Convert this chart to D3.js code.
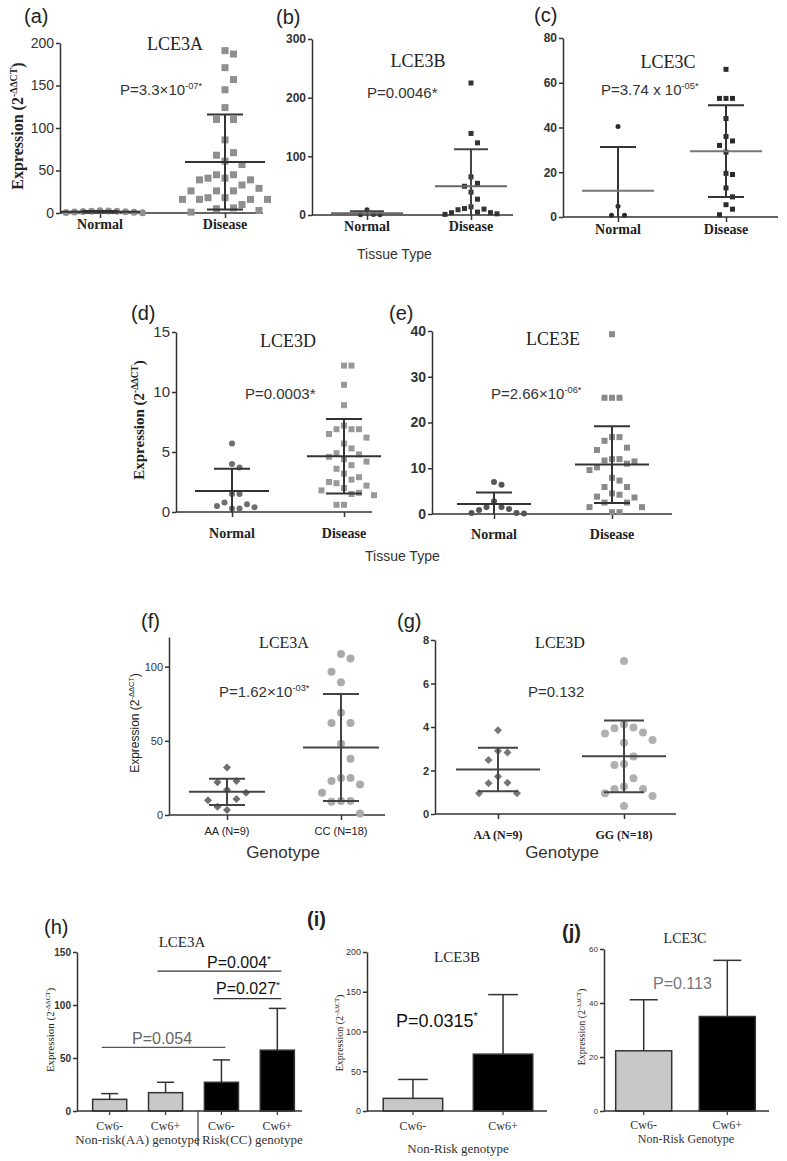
<!DOCTYPE html>
<html>
<head>
<meta charset="utf-8">
<script src="https://cdn.jsdelivr.net/npm/d3@7"></script>
<style>
body { margin: 0; background: #fff; }
</style>
</head>
<body>
<div id="chart"></div>
<script>
'use strict';

// ---- data ----
const tissueCats = ['Normal', 'Disease'];

// (a) LCE3A
const aTicks = [0, 50, 100, 150, 200];
const aNormal = [2.5, 2.0, 1.5, 1.8, 1.2, 0.5, 0.3, 1.0, 2.2, 2.6];
const aDisease = [191, 187, 171, 157, 145, 124, 110, 110, 86, 71, 68, 61, 57, 45, 45, 41, 41, 39, 39, 33, 29,
	26, 26, 26, 18, 18, 16, 16, 16, 16, 10, 6, 5, 3, 1];
const aMean = [1.5, 60];
const aSD = [0.8, 56];

// (b) LCE3B
const bTicks = [0, 100, 200, 300];
const bNormal = [9, 1, 0.5, 0.5];
const bDisease = [225, 139, 123, 65, 54, 49, 39, 27, 14, 11, 10, 9, 5, 4, 4, 2, 1];
const bMean = [3, 49];
const bSD = [3.5, 63];

// (c) LCE3C
const cTicks = [0, 20, 40, 60, 80];
const cNormal = [40.5, 4.8, 0.8, 0.8];
const cDisease = [66, 53, 53, 53, 44, 36, 34, 32, 29, 19.5, 19, 13, 9, 5.5, 3.5, 1];
const cMean = [11.7, 29.4];
const cSD = [19.6, 20.5];

// (d) LCE3D
const dTicks = [0, 5, 10, 15];
const dNormal = [5.7, 4.0, 3.7, 1.5, 1.5, 0.8, 0.65, 0.5, 0.4, 0.3, 0.3];
const dDisease = [12.2, 12.2, 10.6, 8.9, 7.2, 6.9, 6.9, 6.9, 6.5, 6.2, 5.7, 5.3, 4.9, 4.8, 4.6, 4.4, 4.2, 3.9,
	3.6, 3.2, 2.9, 2.7, 2.5, 2.4, 2.2, 2.0, 1.8, 1.6, 1.5, 1.4, 0.6, 0.6];
const dMean = [1.75, 4.65];
const dSD = [1.85, 3.1];

// (e) LCE3E
const eTicks = [0, 10, 20, 30, 40];
const eNormal = [7.0, 6.4, 2.8, 1.5, 1.5, 1.1, 0.9, 0.2, 0.1, 0.2];
const eDisease = [39.3, 25.4, 25.4, 25.4, 16.8, 16.8, 16.0, 14.5, 14.0, 12.0, 12.0, 11.7, 11.5, 11.0, 10.2,
	9.6, 7.9, 7.3, 5.9, 5.9, 4.5, 4.2, 3.8, 3.6, 2.5, 2.5, 1.5, 1.5, 0.4, 0.4];
const eMean = [2.2, 10.8];
const eSD = [2.5, 8.4];

// (f) LCE3A by genotype
const fCats = ['AA (N=9)', 'CC (N=18)'];
const fTicks = [0, 50, 100];
const fAA = [32, 23, 22, 17, 15, 10.8, 10, 5.6, 3.4];
const fCC = [108.5, 105.5, 96.5, 89.5, 69, 62, 62, 48, 38, 25, 25, 23, 20.5, 15, 9.5, 9, 9.5, 1];
const fMean = [15.6, 45.5];
const fSD = [8.9, 36];

// (g) LCE3D by genotype
const gCats = ['AA (N=9)', 'GG (N=18)'];
const gTicks = [0, 2, 4, 6, 8];
const gAA = [3.85, 2.9, 2.83, 2.48, 1.72, 1.41, 1.44, 0.95, 0.95];
const gGG = [7.03, 4.12, 3.98, 3.94, 3.75, 3.7, 3.4, 3.28, 2.64, 2.3, 2.25, 1.64, 1.26, 1.15, 1.15, 0.95, 0.83, 0.37];
const gMean = [2.05, 2.65];
const gSD = [1.0, 1.65];

// (h) LCE3A bars
const hCats = ['Cw6-', 'Cw6+', 'Cw6-', 'Cw6+'];
const hGroups = ['Non-risk(AA) genotype', 'Risk(CC) genotype'];
const hTicks = [0, 50, 100, 150];
const hMean = [11, 17.3, 27.1, 57.4];
const hSD = [5.4, 9.8, 21.1, 39.4];

// (i) LCE3B bars
const iCats = ['Cw6-', 'Cw6+'];
const iTicks = [0, 50, 100, 150, 200];
const iMean = [15.9, 71.5];
const iSD = [23.8, 74.9];

// (j) LCE3C bars
const jCats = ['Cw6-', 'Cw6+'];
const jTicks = [0, 20, 40, 60];
const jMean = [22.3, 35];
const jSD = [18.9, 20.8];

const SANS = "'Liberation Sans', Arial, sans-serif";
const SERIF = "'Liberation Serif', 'Times New Roman', serif";

var svg = d3.select('#chart').append('svg')
	.attr('width', 787)
	.attr('height', 1161)
	.attr('font-family', SANS);

// plain text helper
function label(x, y, str, o) {
	o = o || {};
	return svg.append('text')
		.attr('x', x)
		.attr('y', y)
		.attr('text-anchor', o.anchor || 'middle')
		.attr('font-family', o.family || SANS)
		.attr('font-size', o.size || 14)
		.attr('font-weight', o.weight || 'normal')
		.attr('fill', o.color || '#222')
		.text(str);
}

// text with a superscript part, e.g. P=3.3x10^-07*
function supText(x, y, base, sup, o) {
	var t = label(x, y, '', o).attr('text-anchor', o.anchor || 'start');
	t.append('tspan').text(base);
	t.append('tspan').attr('dy', -o.size * 0.38).attr('font-size', o.size * 0.62).text(sup);
	return t;
}

// rotated y label
function yLabel(x, y, o) {
	var t = svg.append('text')
		.attr('transform', 'translate(' + x + ',' + y + ') rotate(-90)')
		.attr('text-anchor', 'middle')
		.attr('font-family', o.family)
		.attr('font-size', o.size)
		.attr('font-weight', o.weight || 'normal')
		.attr('fill', '#222');
	t.append('tspan').text('Expression (2');
	t.append('tspan').attr('dy', -o.size * 0.4).attr('font-size', o.size * 0.62).text('-\u0394\u0394CT');
	t.append('tspan').attr('dy', o.size * 0.4).text(')');
}

// simple beeswarm so points in a column don't overlap
function swarm(vals, y, cx, step, vgap) {
	var placed = [];
	vals.map(function(v) { return { v: v, py: y(v) }; })
		.sort(function(a, b) { return a.py - b.py; })
		.forEach(function(p) {
			for (var k = 0; k < 60; k++) {
				var px = cx + (k % 2 ? 1 : -1) * Math.ceil(k / 2) * step;
				var hit = placed.some(function(q) {
					return Math.abs(q.px - px) < step * 0.99 && Math.abs(q.py - p.py) < vgap;
				});
				if (!hit) { p.px = px; break; }
			}
			placed.push(p);
		});
	return placed;
}

function styleYAxis(ga, o) {
	ga.attr('font-family', o.tickFamily || SANS);
	ga.select('.domain').attr('stroke', '#333').attr('stroke-width', 1.5);
	ga.selectAll('.tick line').attr('stroke', '#333').attr('stroke-width', 1.5);
	ga.selectAll('.tick text')
		.attr('font-size', o.tickFont)
		.attr('font-weight', o.tickBold ? 'bold' : 'normal')
		.attr('fill', '#333');
}

// scatter panel with mean and SD lines
function dotPanel(p) {
	var g = svg.append('g');
	var y = d3.scaleLinear().domain(p.domain).range([p.y0, p.y1]);
	var x = d3.scalePoint().domain(p.cats).range(p.catX);

	var ga = g.append('g')
		.attr('transform', 'translate(' + p.ax0 + ',0)')
		.call(d3.axisLeft(y).tickValues(p.ticks).tickSize(4).tickSizeOuter(0).tickPadding(2));
	styleYAxis(ga, p);

	g.append('line')
		.attr('x1', p.ax0).attr('x2', p.ax1)
		.attr('y1', y(0)).attr('y2', y(0))
		.attr('stroke', '#333').attr('stroke-width', 1.5);

	var gx = g.append('g')
		.attr('transform', 'translate(0,' + y(0) + ')')
		.call(d3.axisBottom(x).tickSize(5).tickSizeOuter(0).tickFormat(''));
	gx.select('.domain').remove();
	gx.selectAll('.tick line').attr('stroke', '#333').attr('stroke-width', 1.5);

	p.cats.forEach(function(c) {
		label(x(c), y(0) + p.labDy, c, { family: p.labFamily, size: p.labFont, weight: p.labWeight, color: '#222' });
	});

	p.groups.forEach(function(vals, i) {
		var cx = x(p.cats[i]);
		var s = p.size;
		var pts = swarm(vals, y, cx, s + 1.5, (s + 1) * 2);
		var shape = p.shapes[i];
		var sym = d3.symbol()
			.type(shape === 'circle' ? d3.symbolCircle : d3.symbolSquare)
			.size(shape === 'circle' ? Math.PI * s * s / 4 : (shape === 'diamond' ? s * s / 2 : s * s));
		g.append('g').selectAll('path')
			.data(pts)
			.enter().append('path')
			.attr('d', sym)
			.attr('transform', function(d) {
				return 'translate(' + d.px + ',' + d.py + ')' + (shape === 'diamond' ? ' rotate(45)' : '');
			})
			.attr('fill', p.colors[i]);

		// mean +/- SD
		var m = p.means[i], sd = p.sds[i];
		var lo = Math.max(0, m - sd), hi = m + sd;
		var eb = g.append('g').attr('stroke', p.barColor).attr('stroke-width', 2);
		eb.append('line').attr('x1', cx).attr('x2', cx).attr('y1', y(lo)).attr('y2', y(hi));
		eb.append('line').attr('x1', cx - p.capW).attr('x2', cx + p.capW).attr('y1', y(hi)).attr('y2', y(hi));
		if (m - sd > 0) {
			eb.append('line').attr('x1', cx - p.capW).attr('x2', cx + p.capW).attr('y1', y(lo)).attr('y2', y(lo));
		}
		eb.append('line').attr('x1', cx - p.meanW).attr('x2', cx + p.meanW).attr('y1', y(m)).attr('y2', y(m))
			.attr('stroke', p.meanColor || p.barColor);
	});
}

// bar panel with upper SD whisker
function barPanel(p) {
	var g = svg.append('g');
	var y = d3.scaleLinear().domain(p.domain).range([p.y0, p.y1]);
	var x = d3.scaleBand().domain(d3.range(p.cats.length)).range(p.band)
		.paddingInner(p.pi).paddingOuter(p.po);
	var bw = x.bandwidth();

	var ga = g.append('g')
		.attr('transform', 'translate(' + p.ax0 + ',0)')
		.call(d3.axisLeft(y).tickValues(p.ticks).tickSize(4).tickSizeOuter(0).tickPadding(2));
	styleYAxis(ga, p);

	// whiskers
	p.means.forEach(function(m, i) {
		var cx = x(i) + bw / 2;
		var hi = y(m + p.sds[i]);
		g.append('line').attr('x1', cx).attr('x2', cx).attr('y1', y(m)).attr('y2', hi)
			.attr('stroke', '#333').attr('stroke-width', 1.5);
		g.append('line').attr('x1', cx - bw / 4).attr('x2', cx + bw / 4).attr('y1', hi).attr('y2', hi)
			.attr('stroke', '#333').attr('stroke-width', 1.5);
	});

	g.selectAll('rect.bar')
		.data(p.means)
		.enter().append('rect')
		.attr('class', 'bar')
		.attr('x', function(d, i) { return x(i); })
		.attr('y', function(d) { return y(d); })
		.attr('width', bw)
		.attr('height', function(d) { return y(0) - y(d); })
		.attr('fill', function(d, i) { return p.fills[i]; })
		.attr('stroke', '#333')
		.attr('stroke-width', 1.5);

	g.append('line')
		.attr('x1', p.ax0).attr('x2', p.ax1)
		.attr('y1', y(0)).attr('y2', y(0))
		.attr('stroke', '#333').attr('stroke-width', 1.5);

	var gx = g.append('g')
		.attr('transform', 'translate(0,' + y(0) + ')')
		.call(d3.axisBottom(x).tickSize(4).tickSizeOuter(0).tickFormat(''));
	gx.select('.domain').remove();
	gx.selectAll('.tick line').attr('stroke', '#333').attr('stroke-width', 1.2);

	p.cats.forEach(function(c, i) {
		label(x(i) + bw / 2, p.labY, c, { family: SERIF, size: p.labFont, color: '#333' });
	});
	return { x: x, y: y };
}

// ---- row 1 ----
dotPanel({
	ax0: 60, ax1: 263, y0: 213, y1: 43, domain: [0, 200], ticks: aTicks,
	cats: tissueCats, catX: [100, 225], groups: [aNormal, aDisease], means: aMean, sds: aSD,
	shapes: ['circle', 'square'], colors: ['#8f8f8f', '#8f8f8f'], size: 7,
	meanW: 40, capW: 18, barColor: '#333',
	tickFont: 14, labFamily: SERIF, labFont: 14, labWeight: 'bold', labDy: 16
});
dotPanel({
	ax0: 312, ax1: 513, y0: 215, y1: 39, domain: [0, 300], ticks: bTicks,
	cats: tissueCats, catX: [367, 471], groups: [bNormal, bDisease], means: bMean, sds: bSD,
	shapes: ['circle', 'square'], colors: ['#333', '#333'], size: 5,
	meanW: 36, capW: 17, barColor: '#444', meanColor: '#666',
	tickFont: 12, tickBold: true, labFamily: SERIF, labFont: 14, labWeight: 'bold', labDy: 16
});
dotPanel({
	ax0: 563, ax1: 778, y0: 217, y1: 38, domain: [0, 80], ticks: cTicks,
	cats: tissueCats, catX: [618, 726], groups: [cNormal, cDisease], means: cMean, sds: cSD,
	shapes: ['circle', 'square'], colors: ['#2b2b2b', '#2b2b2b'], size: 5,
	meanW: 36, capW: 18, barColor: '#333', meanColor: '#777',
	tickFont: 12, tickBold: true, labFamily: SERIF, labFont: 14, labWeight: 'bold', labDy: 17
});

label(24, 23, '(a)', { anchor: 'start', size: 20 });
label(276, 24, '(b)', { anchor: 'start', size: 20 });
label(534, 22, '(c)', { anchor: 'start', size: 20 });
label(175, 50, 'LCE3A', { family: SERIF, size: 18 });
label(418, 67, 'LCE3B', { family: SERIF, size: 18 });
label(668, 68, 'LCE3C', { family: SERIF, size: 18 });
supText(120, 95, 'P=3.3\u00d710', '-07*', { size: 15, color: '#333' });
supText(367, 98, 'P=0.0046*', '', { size: 15, color: '#333' });
supText(601, 95, 'P=3.74 x 10', '-05*', { size: 15, color: '#333' });
yLabel(23, 126, { family: SERIF, size: 16, weight: 'bold' });
label(357, 259, 'Tissue Type', { anchor: 'start', size: 14, color: '#333' });

// ---- row 2 ----
dotPanel({
	ax0: 176, ax1: 372, y0: 512, y1: 332, domain: [0, 15], ticks: dTicks,
	cats: tissueCats, catX: [232, 344], groups: [dNormal, dDisease], means: dMean, sds: dSD,
	shapes: ['circle', 'square'], colors: ['#6e6e6e', '#999'], size: 6,
	meanW: 37, capW: 18, barColor: '#333',
	tickFont: 15, labFamily: SERIF, labFont: 14, labWeight: 'bold', labDy: 26
});
dotPanel({
	ax0: 432, ax1: 672, y0: 514, y1: 331, domain: [0, 40], ticks: eTicks,
	cats: tissueCats, catX: [494, 612], groups: [eNormal, eDisease], means: eMean, sds: eSD,
	shapes: ['circle', 'square'], colors: ['#555', '#8a8a8a'], size: 6,
	meanW: 37, capW: 18, barColor: '#333',
	tickFont: 14, tickBold: true, labFamily: SERIF, labFont: 14, labWeight: 'bold', labDy: 25
});
label(131, 320, '(d)', { anchor: 'start', size: 20 });
label(389, 320, '(e)', { anchor: 'start', size: 20 });
label(288, 347, 'LCE3D', { family: SERIF, size: 18 });
label(553, 345, 'LCE3E', { family: SERIF, size: 18 });
supText(245, 399, 'P=0.0003*', '', { size: 15, color: '#333' });
supText(491, 399, 'P=2.66\u00d710', '-06*', { size: 15, color: '#333' });
yLabel(144, 420, { family: SERIF, size: 15, weight: 'bold' });
label(365, 561, 'Tissue Type', { anchor: 'start', size: 14, color: '#333' });

// ---- row 3 ----
dotPanel({
	ax0: 169, ax1: 385, y0: 815, y1: 637, domain: [0, 120], ticks: fTicks,
	cats: fCats, catX: [227, 341], groups: [fAA, fCC], means: fMean, sds: fSD,
	shapes: ['diamond', 'circle'], colors: ['#6e6e6e', '#ababab'], size: 8,
	meanW: 38, capW: 18, barColor: '#444',
	tickFont: 11, labFamily: SANS, labFont: 11, labDy: 20
});
dotPanel({
	ax0: 435, ax1: 676, y0: 814, y1: 640, domain: [0, 8], ticks: gTicks,
	cats: gCats, catX: [498, 624], groups: [gAA, gGG], means: gMean, sds: gSD,
	shapes: ['diamond', 'circle'], colors: ['#777', '#b0b0b0'], size: 8,
	meanW: 42, capW: 20, barColor: '#444',
	tickFont: 11, tickBold: true, labFamily: SERIF, labFont: 12, labWeight: 'bold', labDy: 25
});
label(141, 628, '(f)', { anchor: 'start', size: 20 });
label(397, 628, '(g)', { anchor: 'start', size: 20 });
label(284, 648, 'LCE3A', { family: SERIF, size: 16 });
label(560, 648, 'LCE3D', { family: SERIF, size: 16 });
supText(219, 697, 'P=1.62\u00d710', '-03*', { size: 15, color: '#333' });
supText(528, 697, 'P=0.132', '', { size: 15, color: '#333' });
yLabel(139, 723, { family: SANS, size: 12 });
label(283, 858, 'Genotype', { size: 17, color: '#333' });
label(562, 858, 'Genotype', { size: 17, color: '#333' });

// ---- row 4 ----
var h = barPanel({
	ax0: 77, ax1: 302, y0: 1111, y1: 952, domain: [0, 150], ticks: hTicks,
	cats: hCats, band: [77, 310], pi: 0.39, po: 0.28, means: hMean, sds: hSD,
	fills: ['#c8c8c8', '#c8c8c8', '#000', '#000'],
	tickFont: 10, tickBold: true, labFont: 12, labY: 1130
});
var hbw = h.x.bandwidth() / 2;
label((h.x(0) + h.x(1)) / 2 + hbw, 1144, hGroups[0], { family: SERIF, size: 13, color: '#333' });
label((h.x(2) + h.x(3)) / 2 + hbw + 3, 1144, hGroups[1], { family: SERIF, size: 13, color: '#333' });
svg.append('line').attr('x1', 198).attr('x2', 198).attr('y1', 1111).attr('y2', 1146)
	.attr('stroke', '#333').attr('stroke-width', 1.2);

// significance brackets in (h)
function sigLine(from, to, v, color) {
	svg.append('line')
		.attr('x1', h.x(from) + hbw - 8).attr('x2', h.x(to) + hbw + 4)
		.attr('y1', h.y(v)).attr('y2', h.y(v))
		.attr('stroke', color).attr('stroke-width', 1.3);
}
sigLine(0, 2, 60, '#555');
sigLine(1, 3, 132, '#333');
sigLine(2, 3, 106, '#333');
supText(132, 1044, 'P=0.054', '', { size: 16, color: '#666' });
supText(207, 968, 'P=0.004', '*', { size: 16, color: '#111' });
supText(216, 994, 'P=0.027', '*', { size: 16, color: '#111' });

barPanel({
	ax0: 367, ax1: 547, y0: 1111, y1: 952, domain: [0, 200], ticks: iTicks,
	cats: iCats, band: [367, 549], pi: 0.34, po: 0.18, means: iMean, sds: iSD,
	fills: ['#c8c8c8', '#000'],
	tickFont: 9, labFont: 12, labY: 1130
});
label(458, 1153, 'Non-Risk genotype', { family: SERIF, size: 13, color: '#333' });
supText(396, 1027, 'P=0.0315', '*', { size: 18, color: '#111' });

barPanel({
	ax0: 604, ax1: 769, y0: 1111, y1: 949, domain: [0, 60], ticks: jTicks,
	cats: jCats, band: [604, 767], pi: 0.33, po: 0.14, means: jMean, sds: jSD,
	fills: ['#c8c8c8', '#000'],
	tickFont: 8, labFont: 12, labY: 1129
});
label(686, 1143, 'Non-Risk Genotype', { family: SERIF, size: 12, color: '#333' });
supText(653, 989, 'P=0.113', '', { size: 16, color: '#777' });

label(44, 934, '(h)', { anchor: 'start', size: 20 });
label(307, 926, '(i)', { anchor: 'start', size: 20, weight: 'bold' });
label(562, 939, '(j)', { anchor: 'start', size: 20, weight: 'bold' });
label(182, 947, 'LCE3A', { family: SERIF, size: 15 });
label(457, 962, 'LCE3B', { family: SERIF, size: 15 });
label(685, 943, 'LCE3C', { family: SERIF, size: 14 });
yLabel(54, 1030, { family: SERIF, size: 11 });
yLabel(343, 1033, { family: SERIF, size: 10 });
yLabel(585, 1027, { family: SERIF, size: 10 });
</script>
</body>
</html>
